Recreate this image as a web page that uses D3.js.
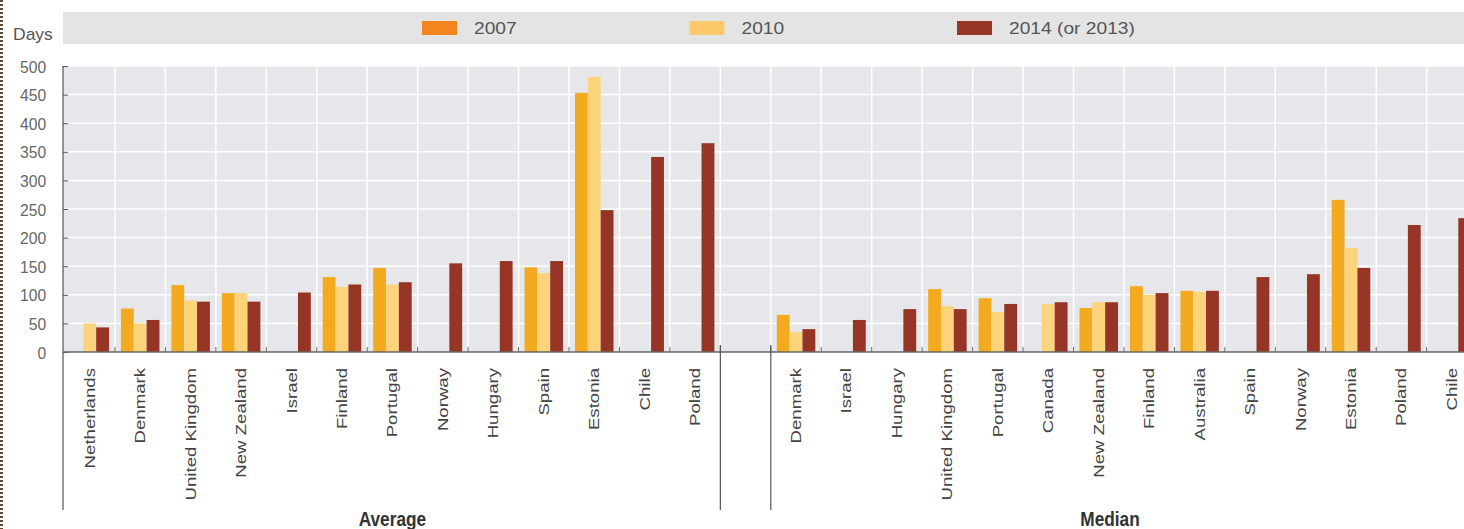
<!DOCTYPE html>
<html>
<head>
<meta charset="utf-8">
<script src="https://cdn.jsdelivr.net/npm/d3@7"></script>
<style>
  body { margin: 0; background: #fff; }
  svg { display: block; font-family: "Liberation Sans", Arial, sans-serif; }
</style>
</head>
<body>
<svg id="chart" width="1464" height="529"></svg>
<script>
// series / years
var years = ["2007", "2010", "2014 (or 2013)"];

// Average panel
var avgCountries = ["Netherlands", "Denmark", "United Kingdom", "New Zealand", "Israel", "Finland",
  "Portugal", "Norway", "Hungary", "Spain", "Estonia", "Chile", "Poland"];
var avg2007 = [null, 76, 117, 103, null, 131, 147, null, null, 148, 453, null, null];
var avg2010 = [50, 50, 90, 103, null, 114, 118, null, null, 138, 481, null, null];
var avg2014 = [43, 56, 88, 88, 104, 118, 122, 155, 159, 159, 248, 341, 365];

// Median panel
var medCountries = ["Denmark", "Israel", "Hungary", "United Kingdom", "Portugal", "Canada",
  "New Zealand", "Finland", "Australia", "Spain", "Norway", "Estonia", "Poland", "Chile"];
var med2007 = [65, null, null, 110, 94, null, 77, 115, 107, null, null, 266, null, null];
var med2010 = [35, null, null, 80, 70, 84, 87, 100, 105, null, null, 182, null, null];
var med2014 = [40, 56, 75, 75, 84, 87, 87, 103, 107, 131, 136, 147, 222, 234];

var yTicks = [0, 50, 100, 150, 200, 250, 300, 350, 400, 450, 500];
var panelTitles = ["Average", "Median"];

var barColors = ["#F4AA1E", "#FDD47C", "#963426"];
var swatchColors = ["#F5861F", "#FDC86A", "#963426"];

var panels = [
  { key: "A", title: panelTitles[0], countries: avgCountries, series: [avg2007, avg2010, avg2014] },
  { key: "M", title: panelTitles[1], countries: medCountries, series: [med2007, med2010, med2014] }
];

var slots = avgCountries.map(c => "A|" + c).concat(["gap"], medCountries.map(c => "M|" + c));

var svg = d3.select("#chart");
var width = 1464, height = 529;
var plotLeft = 63, plotTop = 66, baseY = 352, bottomLine = 510;

var x = d3.scaleBand().domain(slots).range([64.5, 64.5 + slots.length * 50.45]);
var x1 = d3.scaleBand().domain(years).range([6, 44.5]);
var y = d3.scaleLinear().domain([0, 500]).range([baseY, plotTop]);
var color = d3.scaleOrdinal().domain(years).range(barColors);
var swatch = d3.scaleOrdinal().domain(years).range(swatchColors);

// left dotted edge
svg.append("line")
  .attr("x1", 1.5).attr("x2", 1.5).attr("y1", 0).attr("y2", height)
  .style("stroke", "#5a4a30").style("stroke-width", 3).style("stroke-dasharray", "2,2");

// legend band
svg.append("rect")
  .attr("x", plotLeft).attr("y", 12).attr("width", width - plotLeft).attr("height", 32)
  .style("fill", "#e4e4e4");

svg.append("text")
  .attr("transform", "translate(13,40) scale(1.25,1.2)")
  .style("font-size", "14px").style("fill", "#555")
  .text("Days");

var legX = d3.scaleLinear().domain([0, 1]).range([422, 689.5]);
var leg = svg.selectAll(".leg").data(years).enter().append("g")
  .attr("class", "leg")
  .attr("transform", (d, i) => "translate(" + legX(i) + ",0)");
leg.append("rect")
  .attr("x", 0).attr("y", 21).attr("width", 35).attr("height", 14)
  .style("fill", d => swatch(d));
leg.append("text")
  .attr("transform", "translate(52,34) scale(1.28,1.15)")
  .style("font-size", "15px").style("fill", "#555")
  .text(d => d);

// plot background
svg.append("rect")
  .attr("x", plotLeft).attr("y", plotTop).attr("width", width - plotLeft).attr("height", baseY - plotTop)
  .style("fill", "#e6e7ea");

// horizontal gridlines
svg.selectAll(".hgrid").data(yTicks.filter(d => d > 0)).enter().append("line")
  .attr("x1", plotLeft).attr("x2", width)
  .attr("y1", d => y(d)).attr("y2", d => y(d))
  .style("stroke", "#fff").style("stroke-width", 1.5);

// vertical gridlines at band boundaries
svg.selectAll(".vgrid").data(slots.slice(1)).enter().append("line")
  .attr("x1", d => x(d)).attr("x2", d => x(d))
  .attr("y1", plotTop).attr("y2", baseY)
  .style("stroke", "#fff").style("stroke-width", 1.5);

// bars
panels.forEach(function(p) {
  var rows = [];
  p.countries.forEach(function(c, ci) {
    years.forEach(function(yr, si) {
      var v = p.series[si][ci];
      if (v != null) rows.push({ slot: p.key + "|" + c, year: yr, value: v });
    });
  });
  svg.append("g").selectAll("rect").data(rows).enter().append("rect")
    .attr("x", d => x(d.slot) + x1(d.year))
    .attr("y", d => y(d.value))
    .attr("width", x1.bandwidth())
    .attr("height", d => baseY - y(d.value))
    .style("fill", d => color(d.year));
});

// y axis
var yAxis = d3.axisLeft(y).tickValues(yTicks).tickSize(-5).tickPadding(17);
var yg = svg.append("g").attr("transform", "translate(" + plotLeft + ",0)").call(yAxis);
yg.select(".domain").remove();
yg.selectAll(".tick line").style("stroke", "#555");
yg.selectAll(".tick text")
  .attr("x", -15).attr("y", 0).attr("dy", "0.36em")
  .attr("transform", "scale(1.12,1.2)")
  .style("font-size", "14px").style("fill", "#666")
  .style("font-family", "'Liberation Sans', Arial, sans-serif");

svg.append("line")
  .attr("x1", plotLeft).attr("x2", plotLeft).attr("y1", plotTop).attr("y2", bottomLine)
  .style("stroke", "#555").style("stroke-width", 1.2);

// baseline
svg.append("line")
  .attr("x1", plotLeft).attr("x2", width).attr("y1", baseY).attr("y2", baseY)
  .style("stroke", "#666").style("stroke-width", 1.5);

// small ticks at band boundaries
svg.selectAll(".xtick").data(slots.slice(1)).enter().append("line")
  .attr("x1", d => x(d)).attr("x2", d => x(d))
  .attr("y1", baseY - 5).attr("y2", baseY)
  .style("stroke", "#666").style("stroke-width", 1);

// panel separators
var gapStart = x("gap"), gapEnd = x("gap") + x.bandwidth();
[gapStart, gapEnd].forEach(function(sx) {
  svg.append("line")
    .attr("x1", sx).attr("x2", sx).attr("y1", baseY - 7).attr("y2", bottomLine)
    .style("stroke", "#555").style("stroke-width", 1.2);
});

// category labels
svg.selectAll(".cat").data(slots.filter(s => s !== "gap")).enter().append("text")
  .attr("transform", d => "translate(" + (x(d) + x.bandwidth() / 2 + 5) + ",368) rotate(-90) scale(1.33,1)")
  .attr("text-anchor", "end")
  .style("font-size", "14px").style("fill", "#444")
  .text(d => d.split("|")[1]);

// panel titles
panels.forEach(function(p) {
  var first = x(p.key + "|" + p.countries[0]);
  var last = x(p.key + "|" + p.countries[p.countries.length - 1]) + x.bandwidth();
  var cx = p.key === "M" ? Math.min((first + last) / 2, 1110) : (first + last) / 2;
  svg.append("text")
    .attr("transform", "translate(" + cx + ",526) scale(1.15,1.3)")
    .attr("text-anchor", "middle")
    .style("font-size", "15px").style("font-weight", "bold").style("fill", "#333")
    .text(p.title);
});
</script>
</body>
</html>
